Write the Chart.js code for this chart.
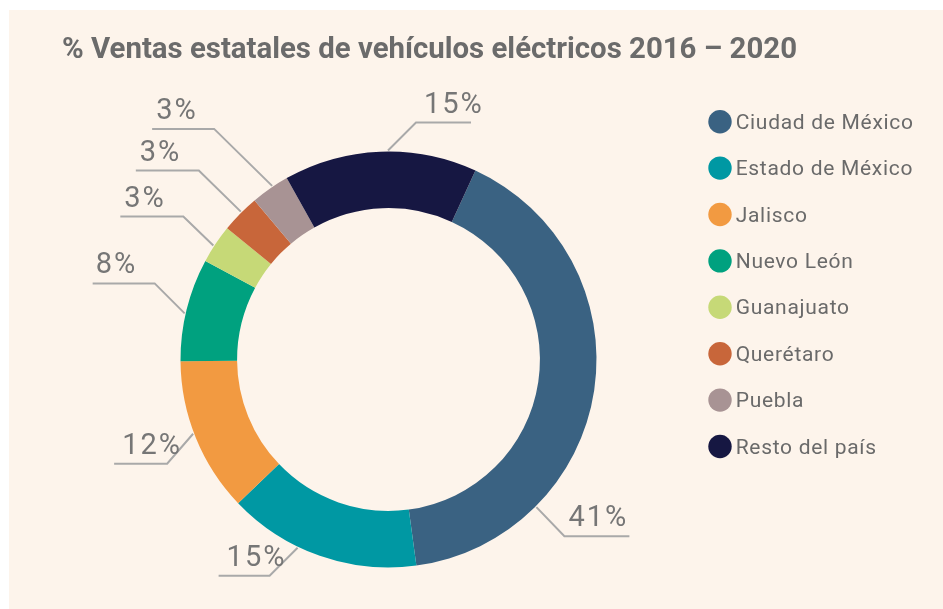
<!DOCTYPE html>
<html>
<head>
<meta charset="utf-8">
<script src="https://cdn.jsdelivr.net/npm/chart.js@4.4.1/dist/chart.umd.min.js"></script>
<style>
  html, body { margin: 0; padding: 0; background: #ffffff; }
  #wrap { width: 943px; height: 609px; position: relative; }
</style>
</head>
<body>
<div id="wrap"><canvas id="c" width="943" height="609"></canvas></div>
<script>
// ---- data ----
const titleText = '% Ventas estatales de vehículos eléctricos 2016 – 2020';
const categories = ['Ciudad de México', 'Estado de México', 'Jalisco', 'Nuevo León', 'Guanajuato', 'Querétaro', 'Puebla', 'Resto del país'];
const shares = [41, 15, 12, 8, 3, 3, 3, 15];
const sliceColors = ['#3a6282', '#0098a3', '#f29a41', '#00a17f', '#c6d977', '#c8663a', '#a89394', '#161742'];

// ---- label layout (leader lines) ----
const labelAnchor = [0.747, 0.62, 0.53, 0.46, 0.44, 0.55, 0.58, 0.54];
const labelElbow = [[28, 29], [-28, 28], [-26, 30], [-30, -30], [-30, -29], [-42, -41], [-58, -57], [28, -28]];
const labelLine = [65, -51, -53, -62, -63, -63, -62, 55];
const labelPad = [4, 8, 8, 3, 4, 4, 4, 8];

const CREAM = '#fdf4eb';

const panelPlugin = {
  id: 'panel',
  beforeDraw(chart) {
    const ctx = chart.ctx;
    ctx.save();
    ctx.fillStyle = '#ffffff';
    ctx.fillRect(0, 0, chart.width, chart.height);
    ctx.fillStyle = CREAM;
    ctx.fillRect(9, 10, chart.width - 9, chart.height - 10);
    // title
    ctx.fillStyle = '#6b6b6b';
    ctx.font = 'bold 30px Roboto';
    ctx.textBaseline = 'alphabetic';
    ctx.textAlign = 'left';
    ctx.fillText(titleText, 62, 58, 735);
    ctx.restore();
  }
};

const labelPlugin = {
  id: 'leaderLabels',
  afterDatasetsDraw(chart) {
    const ctx = chart.ctx;
    const meta = chart.getDatasetMeta(0);
    ctx.save();
    meta.data.forEach((arc, i) => {
      const a = arc.startAngle + labelAnchor[i] * (arc.endAngle - arc.startAngle);
      const R = arc.outerRadius + 1;
      const ax = arc.x + R * Math.cos(a);
      const ay = arc.y + R * Math.sin(a);
      const ex = ax + labelElbow[i][0];
      const ey = ay + labelElbow[i][1];
      const lx = ex + labelLine[i];
      ctx.strokeStyle = '#a9a9a9';
      ctx.lineWidth = 2;
      ctx.beginPath();
      ctx.moveTo(ax, ay);
      ctx.lineTo(ex, ey);
      ctx.lineTo(lx, ey);
      ctx.stroke();
      ctx.fillStyle = '#767676';
      ctx.font = '29px Roboto';
      ctx.letterSpacing = '2px';
      ctx.textAlign = 'left';
      ctx.textBaseline = 'alphabetic';
      ctx.fillText(shares[i] + '%', Math.min(ex, lx) + labelPad[i], ey - 10);
    });
    ctx.restore();
  }
};

const legendPlugin = {
  id: 'sideLegend',
  afterDraw(chart) {
    const ctx = chart.ctx;
    ctx.save();
    const x0 = 720, y0 = 121.7, step = 46.4, r = 11.7;
    categories.forEach((name, i) => {
      const cy = y0 + i * step;
      ctx.fillStyle = sliceColors[i];
      ctx.beginPath();
      ctx.arc(x0, cy, r, 0, Math.PI * 2);
      ctx.fill();
      ctx.fillStyle = '#6a6a6a';
      ctx.font = '21px Roboto';
      ctx.letterSpacing = '0.7px';
      ctx.textAlign = 'left';
      ctx.textBaseline = 'alphabetic';
      ctx.fillText(name, x0 + 15.7, cy + 7);
    });
    ctx.restore();
  }
};

new Chart(document.getElementById('c'), {
  type: 'doughnut',
  data: {
    labels: categories,
    datasets: [{
      data: shares,
      backgroundColor: sliceColors,
      borderWidth: 0,
      hoverOffset: 0
    }]
  },
  options: {
    responsive: false,
    animation: false,
    rotation: 24.7,
    cutout: '72.8%',
    layout: { padding: { top: 151.5, left: 62, right: 228, bottom: 41.5 } },
    plugins: {
      legend: { display: false },
      title: { display: false },
      tooltip: { enabled: false }
    }
  },
  plugins: [panelPlugin, labelPlugin, legendPlugin]
});
</script>
</body>
</html>
